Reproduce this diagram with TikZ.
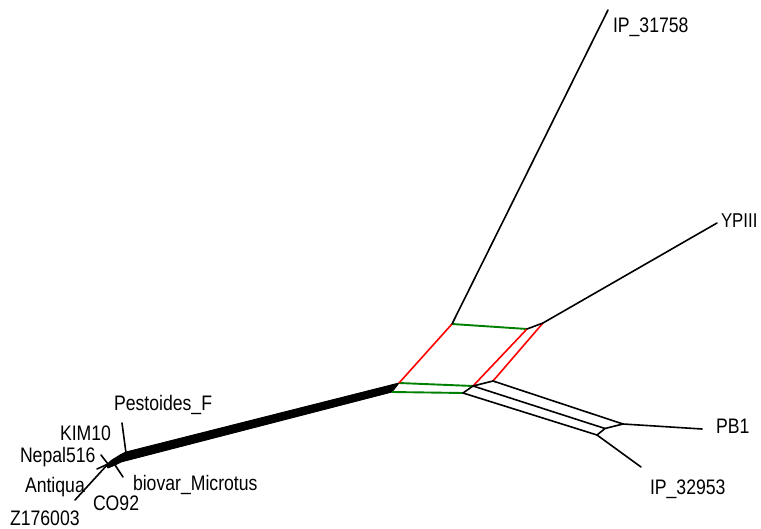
\documentclass[tikz,border=0pt]{standalone}
\usepackage{fontspec}
\setmainfont{Liberation Sans}[FakeStretch=0.84]
\definecolor{sgreen}{RGB}{0,128,0}
\begin{document}
\begin{tikzpicture}[x=1pt,y=-1pt,
  edge/.style={line width=1.6pt, black, line cap=round, line join=round},
  gedge/.style={line width=1.9pt, sgreen},
  redge/.style={line width=1.6pt, red},
  lbl/.style={anchor=base west, inner sep=0pt, outer sep=0pt, font=\fontsize{21}{21}\selectfont}]
\useasboundingbox (0,0) rectangle (761,529);
% network vertices
\coordinate (A) at (399,383);
\coordinate (C) at (392,392);
\coordinate (a) at (473,386);
\coordinate (c) at (463,393);
\coordinate (b) at (493,381);
\coordinate (T1) at (452,324);
\coordinate (T2) at (527,329);
\coordinate (T3) at (543,323);
\coordinate (P) at (623,424);
\coordinate (M) at (605,428.5);
\coordinate (Q) at (597,435);
% leaf ends
\coordinate (L1) at (608,10);
\coordinate (L2) at (717,223);
\coordinate (L3) at (702,429);
\coordinate (L4) at (641,467);
\coordinate (K) at (108,464);
\coordinate (Ap) at (126,452);
\coordinate (Cp) at (121,462);
\coordinate (ps) at (122,423);
\coordinate (pj) at (126,453);
\coordinate (nk) at (101,455);
\coordinate (zt) at (75,500);
\coordinate (an) at (97,469);
\coordinate (cs) at (115,465);
\coordinate (ce) at (123,477);
% thick band
\filldraw[line width=0.9pt, line join=round] (106,465) -- (112,460) -- (120,455) -- (Ap) -- (A) -- (C) -- (Cp) -- (114,465.5) -- (108,468) -- cycle;
% green and red splits
\draw[gedge] (A) -- (a);
\draw[gedge] (C) -- (c);
\draw[gedge] (T1) -- (T2);
\draw[redge] (A) -- (T1);
\draw[redge] (a) -- (T2);
\draw[redge] (b) -- (T3);
% black network edges
\draw[edge] (T2) -- (T3);
\draw[edge] (c) -- (a) -- (b);
\draw[edge] (b) -- (P);
\draw[edge] (a) -- (M);
\draw[edge] (c) -- (Q);
\draw[edge] (P) -- (M) -- (Q);
% leaves
\draw[edge] (T1) -- (L1);
\draw[edge] (T3) -- (L2);
\draw[edge] (P) -- (L3);
\draw[edge] (Q) -- (L4);
\draw[edge] (pj) -- (ps);
\draw[edge] (K) -- (nk);
\draw[edge] (K) -- (zt);
\draw[edge] (K) -- (an);
\draw[edge] (cs) -- (ce);
% labels
\node[lbl] (n1) at (613,33) {IP\_31758};
\node[lbl, font=\fontsize{20}{20}\selectfont] (n2) at (721,228) {YPIII};
\node[lbl] (n3) at (716,434) {PB1};
\node[lbl] (n4) at (650,494) {IP\_32953};
\node[lbl] (n5) at (114,410) {Pestoides\_F};
\node[lbl] (n6) at (60,440) {KIM10};
\node[lbl] (n7) at (20,462) {Nepal516};
\node[lbl] (n8) at (25,492) {Antiqua};
\node[lbl] (n9) at (93,510) {CO92};
\node[lbl] (n10) at (10,525) {Z176003};
\node[lbl] (n11) at (133,490) {biovar\_Microtus};
\end{tikzpicture}
\end{document}
